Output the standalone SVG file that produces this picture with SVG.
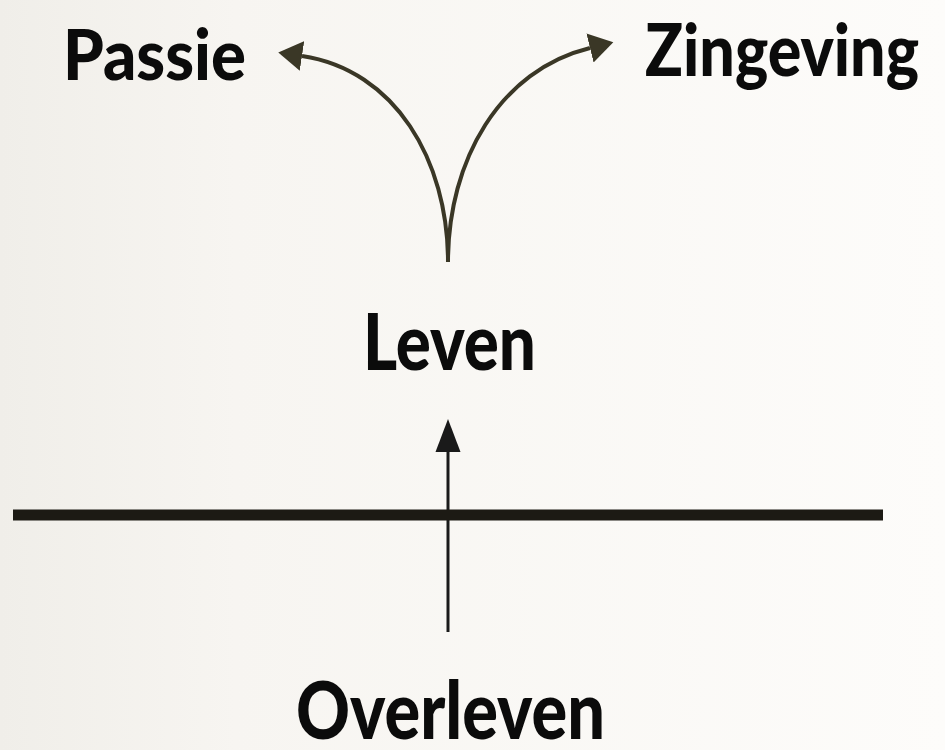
<svg xmlns="http://www.w3.org/2000/svg" width="945" height="750" viewBox="0 0 945 750">
  <defs>
    <linearGradient id="bg" x1="0" y1="0" x2="1" y2="0">
      <stop offset="0" stop-color="#f0eee9"/>
      <stop offset="0.25" stop-color="#f7f5f1"/>
      <stop offset="1" stop-color="#fdfcfa"/>
    </linearGradient>
    <marker id="headOlive" markerUnits="userSpaceOnUse" viewBox="0 -16 26 32" refX="0" refY="0" markerWidth="26" markerHeight="32" orient="auto">
      <path d="M0,-15 L24,0 L0,15 Z" fill="#3a3726"/>
    </marker>
    <marker id="headBlack" markerUnits="userSpaceOnUse" viewBox="0 -14 36 28" refX="0" refY="0" markerWidth="36" markerHeight="28" orient="auto">
      <path d="M0,-12.5 L33,0 L0,12.5 Z" fill="#1a1a1a"/>
    </marker>
  </defs>
  <style>
    .lbl { font-family: Lato, "Liberation Sans", sans-serif; font-weight: 900; fill: #0b0b0b; }
    .curve { fill: none; stroke: #3a3726; stroke-width: 4; marker-end: url(#headOlive); }
  </style>
  <rect x="0" y="0" width="945" height="750" fill="url(#bg)"/>

  <g id="connectors">
    <path class="curve" d="M448,262 C448,160 395,70 302,56"/>
    <path class="curve" d="M448,262 C448,160 500,70 590,48"/>
    <line x1="448" y1="632" x2="448" y2="452" stroke="#1a1a1a" stroke-width="3" marker-end="url(#headBlack)"/>
  </g>

  <g id="divider">
    <line x1="13" y1="515" x2="883" y2="515" stroke="#1c1a14" stroke-width="11"/>
  </g>

  <g id="passie">
    <text class="lbl" x="63" y="80" font-size="71" textLength="183" lengthAdjust="spacingAndGlyphs">Passie</text>
  </g>
  <g id="zingeving">
    <text class="lbl" x="645" y="76" font-size="73" textLength="274" lengthAdjust="spacingAndGlyphs">Zingeving</text>
  </g>
  <g id="leven">
    <text class="lbl" x="363" y="370" font-size="78" textLength="173" lengthAdjust="spacingAndGlyphs">Leven</text>
  </g>
  <g id="overleven">
    <text class="lbl" x="296" y="739" font-size="80" textLength="309" lengthAdjust="spacingAndGlyphs">Overleven</text>
  </g>
</svg>
